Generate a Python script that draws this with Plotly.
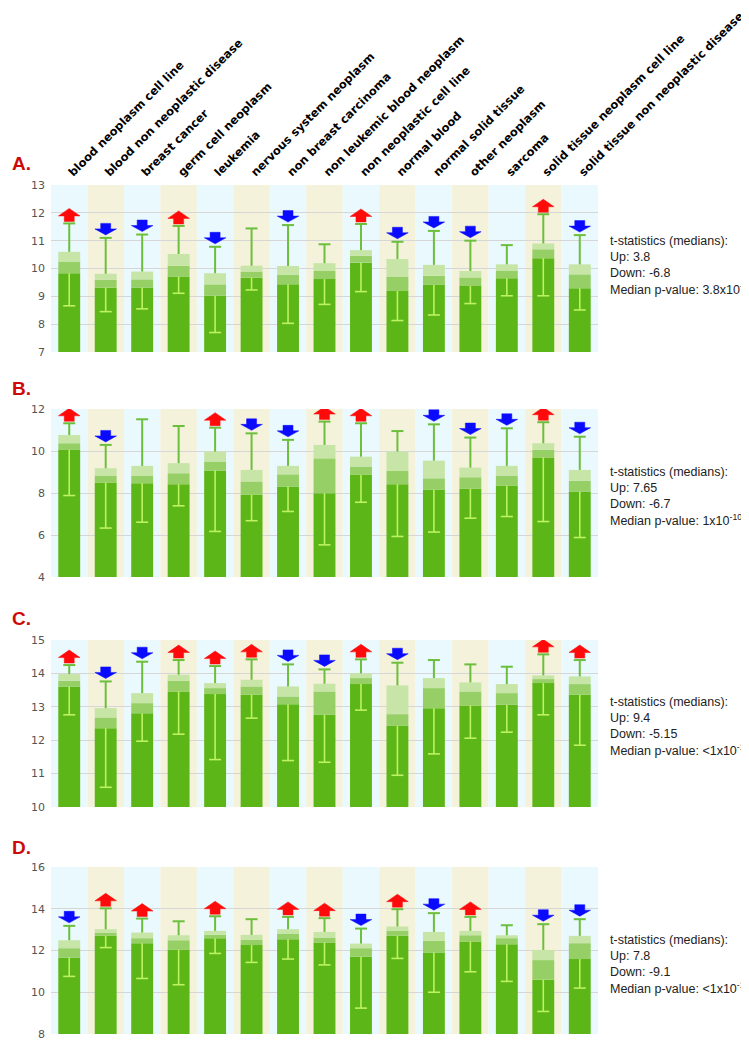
import plotly.graph_objects as go

W, H = 749, 1040

categories = [
    "blood neoplasm cell line", "blood non neoplastic disease", "breast cancer",
    "germ cell neoplasm", "leukemia", "nervous system neoplasm", "non breast carcinoma",
    "non leukemic blood neoplasm", "non neoplastic cell line", "normal blood",
    "normal solid tissue", "other neoplasm", "sarcoma",
    "solid tissue neoplasm cell line", "solid tissue non neoplastic disease",
]

# ---- Panel A ----
q3_A = [10.60, 9.81, 9.89, 10.52, 9.83, 10.10, 10.09, 10.19, 10.66, 10.34, 10.13, 9.91, 10.15, 10.90, 10.15]
med_A = [10.25, 9.59, 9.61, 10.10, 9.43, 9.89, 9.77, 9.91, 10.46, 9.71, 9.74, 9.68, 9.91, 10.69, 9.79]
q1_A = [9.83, 9.31, 9.32, 9.71, 9.02, 9.67, 9.43, 9.62, 10.21, 9.19, 9.41, 9.37, 9.65, 10.37, 9.29]
hi_A = [11.62, 11.10, 11.22, 11.53, 10.78, 11.44, 11.56, 10.87, 11.60, 10.96, 11.35, 11.00, 10.84, 11.95, 11.20]
lo_A = [8.66, 8.45, 8.55, 9.11, 7.70, 9.23, 8.03, 8.71, 9.17, 8.13, 8.33, 8.74, 9.02, 9.02, 8.51]
arr_A = ["up", "down", "down", "up", "down", "", "down", "", "up", "down", "down", "down", "", "up", "down"]

# ---- Panel B ----
q3_B = [10.76, 9.18, 9.29, 9.42, 9.97, 9.10, 9.29, 10.29, 9.73, 9.97, 9.54, 9.21, 9.29, 10.37, 9.10]
med_B = [10.37, 8.83, 8.81, 8.94, 9.50, 8.55, 8.89, 9.65, 9.26, 9.05, 8.70, 8.75, 8.83, 10.05, 8.58]
q1_B = [10.05, 8.50, 8.47, 8.42, 9.07, 7.91, 8.31, 7.99, 8.86, 8.42, 8.15, 8.20, 8.34, 9.69, 8.07]
hi_B = [11.32, 10.29, 11.51, 11.19, 11.11, 10.84, 10.53, 11.40, 11.32, 10.95, 11.27, 10.64, 11.08, 11.37, 10.68]
lo_B = [7.88, 6.33, 6.61, 7.39, 6.17, 6.68, 7.12, 5.53, 7.56, 5.93, 6.14, 6.80, 6.88, 6.64, 5.88]
arr_B = ["up", "down", "", "", "up", "down", "down", "up", "up", "", "down", "down", "down", "up", "down"]

# ---- Panel C ----
q3_C = [13.98, 12.96, 13.41, 13.96, 13.71, 13.81, 13.61, 13.69, 14.00, 13.64, 13.86, 13.73, 13.68, 13.94, 13.91]
med_C = [13.78, 12.68, 13.11, 13.78, 13.56, 13.61, 13.31, 13.46, 13.86, 12.78, 13.56, 13.46, 13.41, 13.83, 13.68]
q1_C = [13.61, 12.36, 12.81, 13.46, 13.38, 13.36, 13.08, 12.76, 13.68, 12.43, 12.96, 13.04, 13.06, 13.71, 13.36]
hi_C = [14.25, 13.76, 14.35, 14.40, 14.22, 14.42, 14.27, 14.12, 14.42, 14.32, 14.40, 14.27, 14.20, 14.57, 14.40]
lo_C = [12.76, 10.59, 11.97, 12.18, 11.42, 12.66, 11.39, 11.34, 12.90, 10.95, 11.59, 12.06, 12.24, 12.76, 11.85]
arr_C = ["up", "down", "down", "up", "up", "up", "down", "down", "up", "down", "", "", "", "up", "up"]

# ---- Panel D ----
q3_D = [12.49, 13.02, 12.86, 12.73, 12.94, 12.75, 13.02, 12.89, 12.33, 13.15, 12.89, 12.94, 12.73, 12.03, 12.70]
med_D = [12.11, 12.86, 12.59, 12.49, 12.75, 12.51, 12.81, 12.62, 12.11, 12.94, 12.46, 12.73, 12.59, 11.54, 12.35]
q1_D = [11.67, 12.70, 12.35, 12.03, 12.59, 12.26, 12.54, 12.38, 11.70, 12.70, 11.90, 12.43, 12.30, 10.60, 11.59]
hi_D = [13.18, 14.02, 13.53, 13.40, 13.64, 13.50, 13.61, 13.55, 13.05, 13.98, 13.79, 13.61, 13.21, 13.26, 13.50]
lo_D = [10.76, 12.14, 10.66, 10.36, 11.86, 11.43, 11.59, 11.31, 9.24, 11.62, 10.00, 10.98, 10.52, 9.08, 10.20]
arr_D = ["down", "up", "up", "", "up", "", "up", "up", "down", "up", "down", "up", "", "down", "down"]

panel_names = ["A.", "B.", "C.", "D."]
y_ranges = [(7, 13), (4, 12), (10, 15), (8, 16)]
y_dticks = [1, 2, 1, 2]
stat_up = ["3.8", "7.65", "9.4", "7.8"]
stat_down = ["-6.8", "-6.7", "-5.15", "-9.1"]
stat_p = ["3.8x10<sup>-8</sup>", "1x10<sup>-10</sup>", "&lt;1x10<sup>-10</sup>", "&lt;1x10<sup>-10</sup>"]

panels = [
    (q1_A, med_A, q3_A, lo_A, hi_A, arr_A),
    (q1_B, med_B, q3_B, lo_B, hi_B, arr_B),
    (q1_C, med_C, q3_C, lo_C, hi_C, arr_C),
    (q1_D, med_D, q3_D, lo_D, hi_D, arr_D),
]

# layout geometry (pixels)
PX_L, PX_R = 43, 590
plot_px = [(177, 344), (401, 569), (632, 799), (859, 1026)]
label_y = [155, 380, 610, 839]
stat_y0 = [233, 464, 694, 932]
STAT_DY = 16

DARK, MID, LIGHT = "#5cb617", "#95cf65", "#c6e5a6"
UPPER_W, LOWER_W = "#6cbf3c", "#bdf262"
RED, BLUE = "#ff0a0a", "#0a0aff"
BAND_BLUE, BAND_BEIGE = "#e9f9fd", "#f5f2db"

n = len(categories)
xs = list(range(n))
x_px_per_unit = (PX_R - PX_L) / n
BAR_W = 0.6
CAP = 6 / x_px_per_unit

fig = go.Figure()
shapes = []
annotations = []
layout_axes = {}

for p, (q1, med, q3, lo, hi, arr) in enumerate(panels):
    sfx = "" if p == 0 else str(p + 1)
    xa, ya = "x" + sfx, "y" + sfx
    ymin, ymax = y_ranges[p]
    top_px, bot_px = plot_px[p]
    upp = (ymax - ymin) / (bot_px - top_px)  # data units per pixel

    # bars
    fig.add_trace(go.Bar(x=xs, y=q1, width=BAR_W, marker=dict(color=DARK, line=dict(width=0)),
                         xaxis=xa, yaxis=ya, showlegend=False, hoverinfo="skip"))
    fig.add_trace(go.Bar(x=xs, y=[b - a for a, b in zip(q1, med)], base=q1, width=BAR_W,
                         marker=dict(color=MID, line=dict(width=0)),
                         xaxis=xa, yaxis=ya, showlegend=False, hoverinfo="skip"))
    fig.add_trace(go.Bar(x=xs, y=[b - a for a, b in zip(med, q3)], base=med, width=BAR_W,
                         marker=dict(color=LIGHT, line=dict(width=0)),
                         xaxis=xa, yaxis=ya, showlegend=False, hoverinfo="skip"))

    # whiskers
    ux, uy, lx, ly = [], [], [], []
    for i in xs:
        ux += [i, i, None, i - CAP, i + CAP, None]
        uy += [q3[i], hi[i], None, hi[i], hi[i], None]
        lx += [i, i, None, i - CAP, i + CAP, None]
        ly += [q1[i], lo[i], None, lo[i], lo[i], None]
    fig.add_trace(go.Scatter(x=ux, y=uy, mode="lines", line=dict(color=UPPER_W, width=2),
                             xaxis=xa, yaxis=ya, showlegend=False, hoverinfo="skip"))
    fig.add_trace(go.Scatter(x=lx, y=ly, mode="lines", line=dict(color=LOWER_W, width=1.6),
                             xaxis=xa, yaxis=ya, showlegend=False, hoverinfo="skip"))

    # arrows
    hw = 10.8 / x_px_per_unit
    sw = 5.0 / x_px_per_unit
    rx, ry, bx, by = [], [], [], []
    for i in xs:
        if arr[i] == "up":
            b = hi[i] + 2 * upp
            pts = [(-sw, 0), (sw, 0), (sw, 5.5), (hw, 5.5), (0, 13), (-hw, 5.5), (-sw, 5.5), (-sw, 0)]
            rx += [i + dx for dx, _ in pts] + [None]
            ry += [b + dy * upp for _, dy in pts] + [None]
        elif arr[i] == "down":
            b = hi[i] + 3 * upp
            pts = [(0, 0), (hw, 6), (sw, 6), (sw, 11.5), (-sw, 11.5), (-sw, 6), (-hw, 6), (0, 0)]
            bx += [i + dx for dx, _ in pts] + [None]
            by += [b + dy * upp for _, dy in pts] + [None]
    if rx:
        fig.add_trace(go.Scatter(x=rx, y=ry, mode="lines", fill="toself", fillcolor=RED,
                                 line=dict(color=RED, width=0.5), xaxis=xa, yaxis=ya,
                                 showlegend=False, hoverinfo="skip"))
    if bx:
        fig.add_trace(go.Scatter(x=bx, y=by, mode="lines", fill="toself", fillcolor=BLUE,
                                 line=dict(color=BLUE, width=0.5), xaxis=xa, yaxis=ya,
                                 showlegend=False, hoverinfo="skip"))

    # background bands
    for i in xs:
        shapes.append(dict(type="rect", xref=xa, yref=ya + " domain", x0=i - 0.5, x1=i + 0.5,
                           y0=0, y1=1, fillcolor=BAND_BLUE if i % 2 == 0 else BAND_BEIGE,
                           line=dict(width=0), layer="below"))

    dom_y = [1 - bot_px / H, 1 - top_px / H]
    layout_axes["xaxis" + sfx] = dict(
        domain=[PX_L / W, PX_R / W], range=[-0.5, n - 0.5], anchor=ya,
        tickvals=xs, ticktext=categories, showgrid=False, zeroline=False,
        showticklabels=(p == 0), side="top", tickangle=-45, ticks="",
        tickfont=dict(family="DejaVu Sans", size=11.5, color="#000000", weight="bold"),
        ticklabelstandoff=3, automargin=False, fixedrange=True,
    )
    layout_axes["yaxis" + sfx] = dict(
        domain=dom_y, range=[ymin, ymax], dtick=y_dticks[p], tick0=ymin, anchor=xa,
        showgrid=True, gridcolor="#d6d6d6", gridwidth=1, zeroline=False, ticks="",
        tickfont=dict(family="DejaVu Sans", size=11, color="#555555"),
        ticklabelstandoff=5, automargin=False, fixedrange=True,
    )

    # panel label
    annotations.append(dict(text="<b>%s</b>" % panel_names[p], xref="paper", yref="paper",
                            x=2 / W, y=1 - label_y[p] / H, xanchor="left", yanchor="middle",
                            showarrow=False,
                            font=dict(family="Liberation Sans", size=19, color="#cc0a0a")))
    # stats
    lines = ["t-statistics (medians):", "Up: " + stat_up[p], "Down: " + stat_down[p],
             "Median p-value: " + stat_p[p]]
    for k, t in enumerate(lines):
        annotations.append(dict(text=t, xref="paper", yref="paper", x=600 / W,
                                y=1 - (stat_y0[p] + k * STAT_DY) / H, xanchor="left",
                                yanchor="middle", showarrow=False,
                                font=dict(family="Liberation Sans", size=12.5, color="#222222")))

fig.update_layout(
    width=W, height=H, margin=dict(l=0, r=0, t=0, b=0, autoexpand=False),
    paper_bgcolor="white", plot_bgcolor="white", barmode="overlay",
    shapes=shapes, annotations=annotations, showlegend=False, **layout_axes,
)

fig.write_html("out.html")
